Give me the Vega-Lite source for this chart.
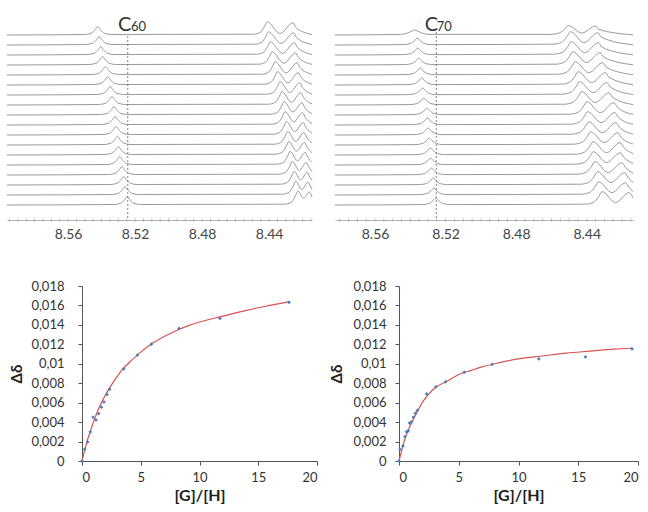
{
"$schema": "https://vega.github.io/schema/vega-lite/v6.json",
"padding": {"left": 5, "top": 12, "right": 0, "bottom": 5},
"background": "white",
"config": {"view": {"stroke": null}, "font": "Lato", "axis": {"labelFont": "Lato", "titleFont": "Lato", "grid": false}},
"datasets": {
"c60": [
{"t":0,"p":8.5965,"y":0},{"t":0,"p":8.5327,"y":0.05},{"t":0,"p":8.5287,"y":0.17},{"t":0,"p":8.5262,"y":0.54},{"t":0,"p":8.5247,"y":0.85},{"t":0,"p":8.5232,"y":0.54},{"t":0,"p":8.5207,"y":0.17},{"t":0,"p":8.5167,"y":0.05},{"t":0,"p":8.4308,"y":0.08},{"t":0,"p":8.4268,"y":0.26},{"t":0,"p":8.4243,"y":0.91},{"t":0,"p":8.4228,"y":1.40},{"t":0,"p":8.4194,"y":0.64},{"t":0,"p":8.4160,"y":1.30},{"t":0,"p":8.4144,"y":0.80},
{"t":1,"p":8.5965,"y":1},{"t":1,"p":8.5340,"y":1.05},{"t":1,"p":8.5300,"y":1.17},{"t":1,"p":8.5275,"y":1.54},{"t":1,"p":8.5260,"y":1.85},{"t":1,"p":8.5245,"y":1.54},{"t":1,"p":8.5220,"y":1.17},{"t":1,"p":8.5180,"y":1.05},{"t":1,"p":8.4322,"y":1.08},{"t":1,"p":8.4282,"y":1.26},{"t":1,"p":8.4257,"y":1.88},{"t":1,"p":8.4242,"y":2.38},{"t":1,"p":8.4205,"y":1.55},{"t":1,"p":8.4167,"y":2.29},{"t":1,"p":8.4152,"y":1.80},{"t":1,"p":8.4144,"y":1.57},
{"t":2,"p":8.5965,"y":2},{"t":2,"p":8.5348,"y":2.05},{"t":2,"p":8.5308,"y":2.17},{"t":2,"p":8.5283,"y":2.54},{"t":2,"p":8.5268,"y":2.85},{"t":2,"p":8.5253,"y":2.54},{"t":2,"p":8.5228,"y":2.17},{"t":2,"p":8.5188,"y":2.05},{"t":2,"p":8.4331,"y":2.08},{"t":2,"p":8.4291,"y":2.26},{"t":2,"p":8.4266,"y":2.88},{"t":2,"p":8.4251,"y":3.37},{"t":2,"p":8.4212,"y":2.51},{"t":2,"p":8.4172,"y":3.28},{"t":2,"p":8.4157,"y":2.80},{"t":2,"p":8.4144,"y":2.45},
{"t":3,"p":8.5965,"y":3},{"t":3,"p":8.5359,"y":3.05},{"t":3,"p":8.5319,"y":3.17},{"t":3,"p":8.5294,"y":3.54},{"t":3,"p":8.5279,"y":3.85},{"t":3,"p":8.5264,"y":3.54},{"t":3,"p":8.5239,"y":3.17},{"t":3,"p":8.5199,"y":3.05},{"t":3,"p":8.4342,"y":3.08},{"t":3,"p":8.4302,"y":3.26},{"t":3,"p":8.4277,"y":3.87},{"t":3,"p":8.4262,"y":4.36},{"t":3,"p":8.4220,"y":3.46},{"t":3,"p":8.4178,"y":4.27},{"t":3,"p":8.4163,"y":3.80},{"t":3,"p":8.4144,"y":3.35},
{"t":4,"p":8.5965,"y":4},{"t":4,"p":8.5372,"y":4.05},{"t":4,"p":8.5332,"y":4.17},{"t":4,"p":8.5307,"y":4.54},{"t":4,"p":8.5292,"y":4.85},{"t":4,"p":8.5277,"y":4.54},{"t":4,"p":8.5252,"y":4.17},{"t":4,"p":8.5212,"y":4.05},{"t":4,"p":8.4355,"y":4.08},{"t":4,"p":8.4315,"y":4.26},{"t":4,"p":8.4290,"y":4.87},{"t":4,"p":8.4275,"y":5.36},{"t":4,"p":8.4230,"y":4.41},{"t":4,"p":8.4185,"y":5.26},{"t":4,"p":8.4170,"y":4.79},{"t":4,"p":8.4144,"y":4.26},
{"t":5,"p":8.5965,"y":5},{"t":5,"p":8.5380,"y":5.05},{"t":5,"p":8.5340,"y":5.17},{"t":5,"p":8.5315,"y":5.54},{"t":5,"p":8.5300,"y":5.85},{"t":5,"p":8.5285,"y":5.54},{"t":5,"p":8.5260,"y":5.17},{"t":5,"p":8.5220,"y":5.05},{"t":5,"p":8.4363,"y":5.08},{"t":5,"p":8.4323,"y":5.26},{"t":5,"p":8.4298,"y":5.86},{"t":5,"p":8.4283,"y":6.35},{"t":5,"p":8.4236,"y":5.38},{"t":5,"p":8.4189,"y":6.26},{"t":5,"p":8.4174,"y":5.79},{"t":5,"p":8.4144,"y":5.23},
{"t":6,"p":8.5965,"y":6},{"t":6,"p":8.5386,"y":6.05},{"t":6,"p":8.5346,"y":6.17},{"t":6,"p":8.5321,"y":6.54},{"t":6,"p":8.5306,"y":6.85},{"t":6,"p":8.5291,"y":6.54},{"t":6,"p":8.5266,"y":6.17},{"t":6,"p":8.5226,"y":6.05},{"t":6,"p":8.4370,"y":6.08},{"t":6,"p":8.4330,"y":6.26},{"t":6,"p":8.4305,"y":6.86},{"t":6,"p":8.4290,"y":7.35},{"t":6,"p":8.4241,"y":6.36},{"t":6,"p":8.4192,"y":7.25},{"t":6,"p":8.4177,"y":6.79},{"t":6,"p":8.4144,"y":6.21},
{"t":7,"p":8.5965,"y":7},{"t":7,"p":8.5393,"y":7.05},{"t":7,"p":8.5353,"y":7.17},{"t":7,"p":8.5328,"y":7.54},{"t":7,"p":8.5313,"y":7.85},{"t":7,"p":8.5298,"y":7.54},{"t":7,"p":8.5273,"y":7.17},{"t":7,"p":8.5233,"y":7.05},{"t":7,"p":8.4377,"y":7.08},{"t":7,"p":8.4337,"y":7.26},{"t":7,"p":8.4312,"y":7.86},{"t":7,"p":8.4297,"y":8.35},{"t":7,"p":8.4247,"y":7.34},{"t":7,"p":8.4196,"y":8.25},{"t":7,"p":8.4181,"y":7.78},{"t":7,"p":8.4144,"y":7.18},
{"t":8,"p":8.5965,"y":8},{"t":8,"p":8.5400,"y":8.05},{"t":8,"p":8.5360,"y":8.17},{"t":8,"p":8.5335,"y":8.54},{"t":8,"p":8.5320,"y":8.85},{"t":8,"p":8.5305,"y":8.54},{"t":8,"p":8.5280,"y":8.17},{"t":8,"p":8.5240,"y":8.05},{"t":8,"p":8.4385,"y":8.08},{"t":8,"p":8.4345,"y":8.26},{"t":8,"p":8.4320,"y":8.86},{"t":8,"p":8.4305,"y":9.34},{"t":8,"p":8.4253,"y":8.32},{"t":8,"p":8.4200,"y":9.25},{"t":8,"p":8.4185,"y":8.78},{"t":8,"p":8.4144,"y":8.16},
{"t":9,"p":8.5965,"y":9},{"t":9,"p":8.5406,"y":9.05},{"t":9,"p":8.5366,"y":9.17},{"t":9,"p":8.5341,"y":9.54},{"t":9,"p":8.5326,"y":9.85},{"t":9,"p":8.5311,"y":9.54},{"t":9,"p":8.5286,"y":9.17},{"t":9,"p":8.5246,"y":9.05},{"t":9,"p":8.4391,"y":9.08},{"t":9,"p":8.4351,"y":9.26},{"t":9,"p":8.4326,"y":9.86},{"t":9,"p":8.4311,"y":10.34},{"t":9,"p":8.4258,"y":9.31},{"t":9,"p":8.4204,"y":10.24},{"t":9,"p":8.4189,"y":9.78},{"t":9,"p":8.4144,"y":9.14},
{"t":10,"p":8.5965,"y":10},{"t":10,"p":8.5418,"y":10.05},{"t":10,"p":8.5378,"y":10.17},{"t":10,"p":8.5353,"y":10.54},{"t":10,"p":8.5338,"y":10.85},{"t":10,"p":8.5323,"y":10.54},{"t":10,"p":8.5298,"y":10.17},{"t":10,"p":8.5258,"y":10.05},{"t":10,"p":8.4404,"y":10.08},{"t":10,"p":8.4364,"y":10.26},{"t":10,"p":8.4339,"y":10.85},{"t":10,"p":8.4324,"y":11.34},{"t":10,"p":8.4267,"y":10.27},{"t":10,"p":8.4210,"y":11.24},{"t":10,"p":8.4195,"y":10.78},{"t":10,"p":8.4144,"y":10.12},
{"t":11,"p":8.5965,"y":11},{"t":11,"p":8.5429,"y":11.05},{"t":11,"p":8.5389,"y":11.17},{"t":11,"p":8.5364,"y":11.54},{"t":11,"p":8.5349,"y":11.85},{"t":11,"p":8.5334,"y":11.54},{"t":11,"p":8.5309,"y":11.17},{"t":11,"p":8.5269,"y":11.05},{"t":11,"p":8.4415,"y":11.08},{"t":11,"p":8.4375,"y":11.26},{"t":11,"p":8.4350,"y":11.85},{"t":11,"p":8.4335,"y":12.33},{"t":11,"p":8.4276,"y":11.25},{"t":11,"p":8.4216,"y":12.24},{"t":11,"p":8.4201,"y":11.77},{"t":11,"p":8.4144,"y":11.10},
{"t":12,"p":8.5965,"y":12},{"t":12,"p":8.5444,"y":12.05},{"t":12,"p":8.5404,"y":12.17},{"t":12,"p":8.5379,"y":12.54},{"t":12,"p":8.5364,"y":12.85},{"t":12,"p":8.5349,"y":12.54},{"t":12,"p":8.5324,"y":12.17},{"t":12,"p":8.5284,"y":12.05},{"t":12,"p":8.4431,"y":12.08},{"t":12,"p":8.4391,"y":12.26},{"t":12,"p":8.4366,"y":12.85},{"t":12,"p":8.4351,"y":13.33},{"t":12,"p":8.4288,"y":12.23},{"t":12,"p":8.4225,"y":13.23},{"t":12,"p":8.4210,"y":12.77},{"t":12,"p":8.4144,"y":12.08},
{"t":13,"p":8.5965,"y":13},{"t":13,"p":8.5457,"y":13.05},{"t":13,"p":8.5417,"y":13.17},{"t":13,"p":8.5392,"y":13.54},{"t":13,"p":8.5377,"y":13.85},{"t":13,"p":8.5362,"y":13.54},{"t":13,"p":8.5337,"y":13.17},{"t":13,"p":8.5297,"y":13.05},{"t":13,"p":8.4445,"y":13.08},{"t":13,"p":8.4405,"y":13.26},{"t":13,"p":8.4380,"y":13.85},{"t":13,"p":8.4365,"y":14.33},{"t":13,"p":8.4299,"y":13.21},{"t":13,"p":8.4232,"y":14.23},{"t":13,"p":8.4217,"y":13.77},{"t":13,"p":8.4144,"y":13.07},
{"t":14,"p":8.5965,"y":14},{"t":14,"p":8.5474,"y":14.05},{"t":14,"p":8.5434,"y":14.17},{"t":14,"p":8.5409,"y":14.54},{"t":14,"p":8.5394,"y":14.85},{"t":14,"p":8.5379,"y":14.54},{"t":14,"p":8.5354,"y":14.17},{"t":14,"p":8.5314,"y":14.05},{"t":14,"p":8.4463,"y":14.08},{"t":14,"p":8.4423,"y":14.26},{"t":14,"p":8.4398,"y":14.84},{"t":14,"p":8.4383,"y":15.32},{"t":14,"p":8.4312,"y":14.18},{"t":14,"p":8.4241,"y":15.23},{"t":14,"p":8.4226,"y":14.77},{"t":14,"p":8.4144,"y":14.06},
{"t":15,"p":8.5965,"y":15},{"t":15,"p":8.5485,"y":15.05},{"t":15,"p":8.5445,"y":15.17},{"t":15,"p":8.5420,"y":15.54},{"t":15,"p":8.5405,"y":15.85},{"t":15,"p":8.5390,"y":15.54},{"t":15,"p":8.5365,"y":15.17},{"t":15,"p":8.5325,"y":15.05},{"t":15,"p":8.4474,"y":15.08},{"t":15,"p":8.4434,"y":15.26},{"t":15,"p":8.4409,"y":15.84},{"t":15,"p":8.4394,"y":16.32},{"t":15,"p":8.4321,"y":15.17},{"t":15,"p":8.4247,"y":16.22},{"t":15,"p":8.4232,"y":15.77},{"t":15,"p":8.4144,"y":15.05},
{"t":16,"p":8.5965,"y":16},{"t":16,"p":8.5495,"y":16.05},{"t":16,"p":8.5455,"y":16.17},{"t":16,"p":8.5430,"y":16.54},{"t":16,"p":8.5415,"y":16.85},{"t":16,"p":8.5400,"y":16.54},{"t":16,"p":8.5375,"y":16.17},{"t":16,"p":8.5335,"y":16.05},{"t":16,"p":8.4485,"y":16.08},{"t":16,"p":8.4445,"y":16.26},{"t":16,"p":8.4420,"y":16.84},{"t":16,"p":8.4405,"y":17.32},{"t":16,"p":8.4329,"y":16.16},{"t":16,"p":8.4253,"y":17.22},{"t":16,"p":8.4238,"y":16.77},{"t":16,"p":8.4144,"y":16.05},
{"t":17,"p":8.5965,"y":17},{"t":17,"p":8.5503,"y":17.05},{"t":17,"p":8.5463,"y":17.17},{"t":17,"p":8.5438,"y":17.54},{"t":17,"p":8.5423,"y":17.85},{"t":17,"p":8.5408,"y":17.54},{"t":17,"p":8.5383,"y":17.17},{"t":17,"p":8.5343,"y":17.05},{"t":17,"p":8.4493,"y":17.08},{"t":17,"p":8.4453,"y":17.26},{"t":17,"p":8.4428,"y":17.84},{"t":17,"p":8.4413,"y":18.32},{"t":17,"p":8.4335,"y":17.15},{"t":17,"p":8.4257,"y":18.22},{"t":17,"p":8.4242,"y":17.77},{"t":17,"p":8.4144,"y":17.05}
],
"c70": [
{"t":0,"p":8.5827,"y":0},{"t":0,"p":8.5335,"y":0.04},{"t":0,"p":8.5295,"y":0.14},{"t":0,"p":8.5270,"y":0.45},{"t":0,"p":8.5255,"y":0.70},{"t":0,"p":8.5240,"y":0.45},{"t":0,"p":8.5215,"y":0.14},{"t":0,"p":8.5175,"y":0.04},{"t":0,"p":8.4413,"y":0.08},{"t":0,"p":8.4363,"y":0.26},{"t":0,"p":8.4332,"y":0.85},{"t":0,"p":8.4313,"y":1.33},{"t":0,"p":8.4237,"y":0.24},{"t":0,"p":8.4160,"y":1.23},{"t":0,"p":8.4138,"y":0.71},
{"t":1,"p":8.5827,"y":1},{"t":1,"p":8.5347,"y":1.04},{"t":1,"p":8.5307,"y":1.14},{"t":1,"p":8.5282,"y":1.45},{"t":1,"p":8.5267,"y":1.70},{"t":1,"p":8.5252,"y":1.45},{"t":1,"p":8.5227,"y":1.14},{"t":1,"p":8.5187,"y":1.04},{"t":1,"p":8.4433,"y":1.08},{"t":1,"p":8.4383,"y":1.26},{"t":1,"p":8.4352,"y":1.85},{"t":1,"p":8.4333,"y":2.33},{"t":1,"p":8.4257,"y":1.24},{"t":1,"p":8.4180,"y":2.23},{"t":1,"p":8.4161,"y":1.79},{"t":1,"p":8.4138,"y":1.33},
{"t":2,"p":8.5827,"y":2},{"t":2,"p":8.5350,"y":2.04},{"t":2,"p":8.5310,"y":2.14},{"t":2,"p":8.5285,"y":2.45},{"t":2,"p":8.5270,"y":2.70},{"t":2,"p":8.5255,"y":2.45},{"t":2,"p":8.5230,"y":2.14},{"t":2,"p":8.5190,"y":2.04},{"t":2,"p":8.4439,"y":2.08},{"t":2,"p":8.4389,"y":2.26},{"t":2,"p":8.4358,"y":2.85},{"t":2,"p":8.4339,"y":3.33},{"t":2,"p":8.4263,"y":2.24},{"t":2,"p":8.4186,"y":3.23},{"t":2,"p":8.4167,"y":2.79},{"t":2,"p":8.4138,"y":2.28},
{"t":3,"p":8.5827,"y":3},{"t":3,"p":8.5360,"y":3.04},{"t":3,"p":8.5320,"y":3.14},{"t":3,"p":8.5295,"y":3.45},{"t":3,"p":8.5280,"y":3.70},{"t":3,"p":8.5265,"y":3.45},{"t":3,"p":8.5240,"y":3.14},{"t":3,"p":8.5200,"y":3.04},{"t":3,"p":8.4455,"y":3.08},{"t":3,"p":8.4405,"y":3.26},{"t":3,"p":8.4374,"y":3.85},{"t":3,"p":8.4355,"y":4.33},{"t":3,"p":8.4278,"y":3.24},{"t":3,"p":8.4201,"y":4.23},{"t":3,"p":8.4182,"y":3.79},{"t":3,"p":8.4138,"y":3.18},
{"t":4,"p":8.5827,"y":4},{"t":4,"p":8.5365,"y":4.04},{"t":4,"p":8.5325,"y":4.14},{"t":4,"p":8.5300,"y":4.45},{"t":4,"p":8.5285,"y":4.70},{"t":4,"p":8.5270,"y":4.45},{"t":4,"p":8.5245,"y":4.14},{"t":4,"p":8.5205,"y":4.04},{"t":4,"p":8.4463,"y":4.08},{"t":4,"p":8.4413,"y":4.26},{"t":4,"p":8.4382,"y":4.85},{"t":4,"p":8.4363,"y":5.33},{"t":4,"p":8.4287,"y":4.24},{"t":4,"p":8.4210,"y":5.23},{"t":4,"p":8.4191,"y":4.79},{"t":4,"p":8.4138,"y":4.14},
{"t":5,"p":8.5827,"y":5},{"t":5,"p":8.5366,"y":5.04},{"t":5,"p":8.5326,"y":5.14},{"t":5,"p":8.5301,"y":5.45},{"t":5,"p":8.5286,"y":5.70},{"t":5,"p":8.5271,"y":5.45},{"t":5,"p":8.5246,"y":5.14},{"t":5,"p":8.5206,"y":5.04},{"t":5,"p":8.4465,"y":5.08},{"t":5,"p":8.4415,"y":5.26},{"t":5,"p":8.4384,"y":5.85},{"t":5,"p":8.4365,"y":6.33},{"t":5,"p":8.4288,"y":5.24},{"t":5,"p":8.4211,"y":6.23},{"t":5,"p":8.4192,"y":5.79},{"t":5,"p":8.4138,"y":5.14},
{"t":6,"p":8.5827,"y":6},{"t":6,"p":8.5373,"y":6.04},{"t":6,"p":8.5333,"y":6.14},{"t":6,"p":8.5308,"y":6.45},{"t":6,"p":8.5293,"y":6.70},{"t":6,"p":8.5278,"y":6.45},{"t":6,"p":8.5253,"y":6.14},{"t":6,"p":8.5213,"y":6.04},{"t":6,"p":8.4478,"y":6.08},{"t":6,"p":8.4428,"y":6.26},{"t":6,"p":8.4397,"y":6.85},{"t":6,"p":8.4378,"y":7.33},{"t":6,"p":8.4301,"y":6.24},{"t":6,"p":8.4224,"y":7.23},{"t":6,"p":8.4205,"y":6.79},{"t":6,"p":8.4138,"y":6.10},
{"t":7,"p":8.5827,"y":7},{"t":7,"p":8.5379,"y":7.04},{"t":7,"p":8.5339,"y":7.14},{"t":7,"p":8.5314,"y":7.45},{"t":7,"p":8.5299,"y":7.70},{"t":7,"p":8.5284,"y":7.45},{"t":7,"p":8.5259,"y":7.14},{"t":7,"p":8.5219,"y":7.04},{"t":7,"p":8.4489,"y":7.08},{"t":7,"p":8.4439,"y":7.26},{"t":7,"p":8.4408,"y":7.85},{"t":7,"p":8.4389,"y":8.33},{"t":7,"p":8.4312,"y":7.24},{"t":7,"p":8.4234,"y":8.23},{"t":7,"p":8.4215,"y":7.79},{"t":7,"p":8.4138,"y":7.09},
{"t":8,"p":8.5827,"y":8},{"t":8,"p":8.5383,"y":8.04},{"t":8,"p":8.5343,"y":8.14},{"t":8,"p":8.5318,"y":8.45},{"t":8,"p":8.5303,"y":8.70},{"t":8,"p":8.5288,"y":8.45},{"t":8,"p":8.5263,"y":8.14},{"t":8,"p":8.5223,"y":8.04},{"t":8,"p":8.4495,"y":8.08},{"t":8,"p":8.4445,"y":8.26},{"t":8,"p":8.4414,"y":8.85},{"t":8,"p":8.4395,"y":9.33},{"t":8,"p":8.4318,"y":8.24},{"t":8,"p":8.4241,"y":9.23},{"t":8,"p":8.4222,"y":8.79},{"t":8,"p":8.4138,"y":8.07},
{"t":9,"p":8.5827,"y":9},{"t":9,"p":8.5386,"y":9.04},{"t":9,"p":8.5346,"y":9.14},{"t":9,"p":8.5321,"y":9.45},{"t":9,"p":8.5306,"y":9.70},{"t":9,"p":8.5291,"y":9.45},{"t":9,"p":8.5266,"y":9.14},{"t":9,"p":8.5226,"y":9.04},{"t":9,"p":8.4500,"y":9.08},{"t":9,"p":8.4450,"y":9.26},{"t":9,"p":8.4419,"y":9.85},{"t":9,"p":8.4400,"y":10.33},{"t":9,"p":8.4323,"y":9.24},{"t":9,"p":8.4246,"y":10.23},{"t":9,"p":8.4227,"y":9.79},{"t":9,"p":8.4138,"y":9.06},
{"t":10,"p":8.5827,"y":10},{"t":10,"p":8.5403,"y":10.04},{"t":10,"p":8.5363,"y":10.14},{"t":10,"p":8.5338,"y":10.45},{"t":10,"p":8.5323,"y":10.70},{"t":10,"p":8.5308,"y":10.45},{"t":10,"p":8.5283,"y":10.14},{"t":10,"p":8.5243,"y":10.04},{"t":10,"p":8.4529,"y":10.08},{"t":10,"p":8.4479,"y":10.26},{"t":10,"p":8.4448,"y":10.85},{"t":10,"p":8.4429,"y":11.33},{"t":10,"p":8.4352,"y":10.24},{"t":10,"p":8.4274,"y":11.23},{"t":10,"p":8.4255,"y":10.79},{"t":10,"p":8.4138,"y":10.04},
{"t":11,"p":8.5827,"y":11},{"t":11,"p":8.5410,"y":11.04},{"t":11,"p":8.5370,"y":11.14},{"t":11,"p":8.5345,"y":11.45},{"t":11,"p":8.5330,"y":11.70},{"t":11,"p":8.5315,"y":11.45},{"t":11,"p":8.5290,"y":11.14},{"t":11,"p":8.5250,"y":11.04},{"t":11,"p":8.4541,"y":11.08},{"t":11,"p":8.4491,"y":11.26},{"t":11,"p":8.4460,"y":11.85},{"t":11,"p":8.4441,"y":12.33},{"t":11,"p":8.4364,"y":11.24},{"t":11,"p":8.4286,"y":12.23},{"t":11,"p":8.4267,"y":11.79},{"t":11,"p":8.4138,"y":11.04},
{"t":12,"p":8.5827,"y":12},{"t":12,"p":8.5415,"y":12.04},{"t":12,"p":8.5375,"y":12.14},{"t":12,"p":8.5350,"y":12.45},{"t":12,"p":8.5335,"y":12.70},{"t":12,"p":8.5320,"y":12.45},{"t":12,"p":8.5295,"y":12.14},{"t":12,"p":8.5255,"y":12.04},{"t":12,"p":8.4549,"y":12.08},{"t":12,"p":8.4499,"y":12.26},{"t":12,"p":8.4468,"y":12.85},{"t":12,"p":8.4449,"y":13.33},{"t":12,"p":8.4372,"y":12.24},{"t":12,"p":8.4294,"y":13.23},{"t":12,"p":8.4275,"y":12.79},{"t":12,"p":8.4138,"y":12.03},
{"t":13,"p":8.5827,"y":13},{"t":13,"p":8.5424,"y":13.04},{"t":13,"p":8.5384,"y":13.14},{"t":13,"p":8.5359,"y":13.45},{"t":13,"p":8.5344,"y":13.70},{"t":13,"p":8.5329,"y":13.45},{"t":13,"p":8.5304,"y":13.14},{"t":13,"p":8.5264,"y":13.04},{"t":13,"p":8.4566,"y":13.08},{"t":13,"p":8.4516,"y":13.26},{"t":13,"p":8.4485,"y":13.85},{"t":13,"p":8.4466,"y":14.33},{"t":13,"p":8.4388,"y":13.24},{"t":13,"p":8.4310,"y":14.23},{"t":13,"p":8.4291,"y":13.79},{"t":13,"p":8.4138,"y":13.03},
{"t":14,"p":8.5827,"y":14},{"t":14,"p":8.5432,"y":14.04},{"t":14,"p":8.5392,"y":14.14},{"t":14,"p":8.5367,"y":14.45},{"t":14,"p":8.5352,"y":14.70},{"t":14,"p":8.5337,"y":14.45},{"t":14,"p":8.5312,"y":14.14},{"t":14,"p":8.5272,"y":14.04},{"t":14,"p":8.4579,"y":14.08},{"t":14,"p":8.4529,"y":14.26},{"t":14,"p":8.4498,"y":14.85},{"t":14,"p":8.4479,"y":15.33},{"t":14,"p":8.4402,"y":14.24},{"t":14,"p":8.4324,"y":15.23},{"t":14,"p":8.4305,"y":14.79},{"t":14,"p":8.4138,"y":14.02},
{"t":15,"p":8.5827,"y":15},{"t":15,"p":8.5438,"y":15.04},{"t":15,"p":8.5398,"y":15.14},{"t":15,"p":8.5373,"y":15.45},{"t":15,"p":8.5358,"y":15.70},{"t":15,"p":8.5343,"y":15.45},{"t":15,"p":8.5318,"y":15.14},{"t":15,"p":8.5278,"y":15.04},{"t":15,"p":8.4589,"y":15.08},{"t":15,"p":8.4539,"y":15.26},{"t":15,"p":8.4508,"y":15.85},{"t":15,"p":8.4489,"y":16.33},{"t":15,"p":8.4412,"y":15.24},{"t":15,"p":8.4334,"y":16.23},{"t":15,"p":8.4315,"y":15.79},{"t":15,"p":8.4138,"y":15.02},
{"t":16,"p":8.5827,"y":16},{"t":16,"p":8.5440,"y":16.04},{"t":16,"p":8.5400,"y":16.14},{"t":16,"p":8.5375,"y":16.45},{"t":16,"p":8.5360,"y":16.70},{"t":16,"p":8.5345,"y":16.45},{"t":16,"p":8.5320,"y":16.14},{"t":16,"p":8.5280,"y":16.04},{"t":16,"p":8.4593,"y":16.08},{"t":16,"p":8.4543,"y":16.26},{"t":16,"p":8.4512,"y":16.85},{"t":16,"p":8.4493,"y":17.33},{"t":16,"p":8.4415,"y":16.24},{"t":16,"p":8.4337,"y":17.23},{"t":16,"p":8.4318,"y":16.79},{"t":16,"p":8.4138,"y":16.02},
{"t":17,"p":8.5827,"y":17},{"t":17,"p":8.5455,"y":17.06},{"t":17,"p":8.5415,"y":17.2},{"t":17,"p":8.5390,"y":17.4},{"t":17,"p":8.5375,"y":17.5},{"t":17,"p":8.5360,"y":17.4},{"t":17,"p":8.5335,"y":17.2},{"t":17,"p":8.5295,"y":17.06},{"t":17,"p":8.4606,"y":17.06},{"t":17,"p":8.4556,"y":17.2},{"t":17,"p":8.4525,"y":17.6},{"t":17,"p":8.4506,"y":17.95},{"t":17,"p":8.4428,"y":17.2},{"t":17,"p":8.4350,"y":17.9},{"t":17,"p":8.4331,"y":17.55},{"t":17,"p":8.4138,"y":17.02}
],
"ticks60": [{"p":8.595,"y":-1.5},{"p":8.59,"y":-1.5},{"p":8.585,"y":-1.5},{"p":8.58,"y":-1.5},{"p":8.575,"y":-1.5},{"p":8.57,"y":-1.5},{"p":8.565,"y":-1.5},{"p":8.56,"y":-1.5},{"p":8.555,"y":-1.5},{"p":8.55,"y":-1.5},{"p":8.545,"y":-1.5},{"p":8.54,"y":-1.5},{"p":8.535,"y":-1.5},{"p":8.53,"y":-1.5},{"p":8.525,"y":-1.5},{"p":8.52,"y":-1.5},{"p":8.515,"y":-1.5},{"p":8.51,"y":-1.5},{"p":8.505,"y":-1.5},{"p":8.5,"y":-1.5},{"p":8.495,"y":-1.5},{"p":8.49,"y":-1.5},{"p":8.485,"y":-1.5},{"p":8.48,"y":-1.5},{"p":8.475,"y":-1.5},{"p":8.47,"y":-1.5},{"p":8.465,"y":-1.5},{"p":8.46,"y":-1.5},{"p":8.455,"y":-1.5},{"p":8.45,"y":-1.5},{"p":8.445,"y":-1.5},{"p":8.44,"y":-1.5},{"p":8.435,"y":-1.5},{"p":8.43,"y":-1.5},{"p":8.425,"y":-1.5},{"p":8.42,"y":-1.5},{"p":8.415,"y":-1.5}],
"ticks70": [{"p":8.58,"y":-1.5},{"p":8.575,"y":-1.5},{"p":8.57,"y":-1.5},{"p":8.565,"y":-1.5},{"p":8.56,"y":-1.5},{"p":8.555,"y":-1.5},{"p":8.55,"y":-1.5},{"p":8.545,"y":-1.5},{"p":8.54,"y":-1.5},{"p":8.535,"y":-1.5},{"p":8.53,"y":-1.5},{"p":8.525,"y":-1.5},{"p":8.52,"y":-1.5},{"p":8.515,"y":-1.5},{"p":8.51,"y":-1.5},{"p":8.505,"y":-1.5},{"p":8.5,"y":-1.5},{"p":8.495,"y":-1.5},{"p":8.49,"y":-1.5},{"p":8.485,"y":-1.5},{"p":8.48,"y":-1.5},{"p":8.475,"y":-1.5},{"p":8.47,"y":-1.5},{"p":8.465,"y":-1.5},{"p":8.46,"y":-1.5},{"p":8.455,"y":-1.5},{"p":8.45,"y":-1.5},{"p":8.445,"y":-1.5},{"p":8.44,"y":-1.5},{"p":8.435,"y":-1.5},{"p":8.43,"y":-1.5},{"p":8.425,"y":-1.5},{"p":8.42,"y":-1.5},{"p":8.415,"y":-1.5}],
"fit60": [{"x":0,"y":0},{"x":0.25,"y":0.0012},{"x":0.5,"y":0.0023},{"x":0.75,"y":0.0032},{"x":1,"y":0.0041},{"x":1.5,"y":0.0056},{"x":2,"y":0.0068},{"x":2.5,"y":0.0078},{"x":3,"y":0.0087},{"x":3.5,"y":0.0095},{"x":4,"y":0.0101},{"x":5,"y":0.0112},{"x":6,"y":0.0121},{"x":7,"y":0.0128},{"x":8,"y":0.0134},{"x":9,"y":0.0139},{"x":10,"y":0.0143},{"x":12,"y":0.0149},{"x":14,"y":0.0155},{"x":16,"y":0.016},{"x":17.7,"y":0.0164}],
"pts60": [{"x":0,"y":0},{"x":0.23,"y":0.0012},{"x":0.48,"y":0.00196},{"x":0.71,"y":0.003},{"x":0.94,"y":0.0045},{"x":1.19,"y":0.00423},{"x":1.42,"y":0.00488},{"x":1.65,"y":0.00553},{"x":1.87,"y":0.00608},{"x":2.13,"y":0.00684},{"x":2.35,"y":0.00739},{"x":3.55,"y":0.00948},{"x":4.71,"y":0.0109},{"x":5.9,"y":0.01202},{"x":8.26,"y":0.01364},{"x":11.74,"y":0.01467},{"x":17.62,"y":0.01632}],
"fit70": [{"x":0,"y":0},{"x":0.25,"y":0.0012},{"x":0.5,"y":0.0023},{"x":0.75,"y":0.0031},{"x":1,"y":0.0038},{"x":1.5,"y":0.005},{"x":2,"y":0.0061},{"x":2.5,"y":0.0069},{"x":3,"y":0.0075},{"x":4,"y":0.0082},{"x":5,"y":0.0089},{"x":6,"y":0.0093},{"x":7,"y":0.0097},{"x":8,"y":0.01},{"x":10,"y":0.0105},{"x":12,"y":0.0108},{"x":14,"y":0.0111},{"x":16,"y":0.0113},{"x":18,"y":0.0115},{"x":19.5,"y":0.0116}],
"pts70": [{"x":0,"y":0},{"x":0.08,"y":0.0012},{"x":0.33,"y":0.00155},{"x":0.5,"y":0.0025},{"x":0.64,"y":0.003},{"x":0.78,"y":0.0031},{"x":0.89,"y":0.0039},{"x":1.03,"y":0.004},{"x":1.2,"y":0.0045},{"x":1.36,"y":0.0049},{"x":1.53,"y":0.0052},{"x":2.31,"y":0.0069},{"x":3.09,"y":0.00763},{"x":3.9,"y":0.00814},{"x":5.46,"y":0.00914},{"x":7.8,"y":0.00993},{"x":11.7,"y":0.0105},{"x":15.6,"y":0.0107},{"x":19.5,"y":0.01154}]
},
"spacing": 39,
"vconcat": [
{"hconcat": [
{"width": 305, "height": 208,
 "encoding": {
  "x": {"field": "p", "type": "quantitative", "scale": {"domain": [8.5965, 8.4144], "nice": false, "zero": false},
    "axis": {"title": null, "values": [8.56, 8.52, 8.48, 8.44], "format": ".2f", "ticks": false, "labelOverlap": false, "labelFlush": false, "domainColor": "#b0b0b0", "labelFontSize": 14, "labelColor": "#444444", "labelPadding": 7}},
  "y": {"field": "y", "type": "quantitative", "scale": {"domain": [-1.5, 19.3], "nice": false, "zero": false}, "axis": null}},
 "layer": [
  {"data": {"name": "c60"}, "mark": {"type": "line", "interpolate": "monotone", "stroke": "#999999", "strokeWidth": 1}, "encoding": {"detail": {"field": "t", "type": "nominal"}}},
  {"data": {"name": "ticks60"}, "mark": {"type": "tick", "orient": "vertical", "size": 4, "thickness": 1, "color": "#b0b0b0"}},
  {"data": {"values": [{"p": 8.5244, "y": -1.3, "y2": 17.1}]}, "mark": {"type": "rule", "strokeDash": [2, 2], "color": "#666666", "strokeWidth": 0.8}, "encoding": {"y2": {"field": "y2"}}},
  {"data": {"values": [{"p": 8.5302, "y": 17.4, "s": "C"}]}, "mark": {"type": "text", "fontSize": 20, "align": "left", "baseline": "alphabetic", "color": "#333333"}, "encoding": {"text": {"field": "s"}}},
  {"data": {"values": [{"p": 8.5225, "y": 17.4, "s": "60"}]}, "mark": {"type": "text", "fontSize": 13, "align": "left", "baseline": "alphabetic", "color": "#333333"}, "encoding": {"text": {"field": "s"}}}
 ]},
{"width": 298, "height": 208,
 "encoding": {
  "x": {"field": "p", "type": "quantitative", "scale": {"domain": [8.5827, 8.4138], "nice": false, "zero": false},
    "axis": {"title": null, "values": [8.56, 8.52, 8.48, 8.44], "format": ".2f", "ticks": false, "labelOverlap": false, "labelFlush": false, "domainColor": "#b0b0b0", "labelFontSize": 14, "labelColor": "#444444", "labelPadding": 7}},
  "y": {"field": "y", "type": "quantitative", "scale": {"domain": [-1.5, 19.3], "nice": false, "zero": false}, "axis": null}},
 "layer": [
  {"data": {"name": "c70"}, "mark": {"type": "line", "interpolate": "monotone", "stroke": "#999999", "strokeWidth": 1}, "encoding": {"detail": {"field": "t", "type": "nominal"}}},
  {"data": {"name": "ticks70"}, "mark": {"type": "tick", "orient": "vertical", "size": 4, "thickness": 1, "color": "#b0b0b0"}},
  {"data": {"values": [{"p": 8.5253, "y": -1.3, "y2": 17.5}]}, "mark": {"type": "rule", "strokeDash": [2, 2], "color": "#666666", "strokeWidth": 0.8}, "encoding": {"y2": {"field": "y2"}}},
  {"data": {"values": [{"p": 8.5319, "y": 17.4, "s": "C"}]}, "mark": {"type": "text", "fontSize": 20, "align": "left", "baseline": "alphabetic", "color": "#333333"}, "encoding": {"text": {"field": "s"}}},
  {"data": {"values": [{"p": 8.5250, "y": 17.4, "s": "70"}]}, "mark": {"type": "text", "fontSize": 13, "align": "left", "baseline": "alphabetic", "color": "#333333"}, "encoding": {"text": {"field": "s"}}}
 ]}
], "spacing": 19},
{"hconcat": [
{"width": 310, "height": 175,
 "encoding": {
  "x": {"field": "x", "type": "quantitative", "scale": {"domain": [0, 20], "range": [75, 310], "nice": false},
    "axis": {"values": [0, 5, 10, 15, 20], "title": "[G]/[H]", "titleFontSize": 16, "titleFontWeight": "bold", "titleColor": "#222222", "titlePadding": 3, "labelFontSize": 13, "labelColor": "#333333", "domainColor": "#555555", "tickColor": "#555555", "tickSize": 4, "labelPadding": 6, "labelOverlap": false}},
  "y": {"field": "y", "type": "quantitative", "scale": {"domain": [0, 0.018], "nice": false},
    "axis": {"offset": -75, "values": [0, 0.002, 0.004, 0.006, 0.008, 0.01, 0.012, 0.014, 0.016, 0.018], "labelExpr": "replace(format(datum.value, '~f'), '.', ',')", "labelOverlap": false, "title": "Δδ", "titleFontSize": 15, "titleFontWeight": "bold", "titleColor": "#222222", "titlePadding": 6, "labelFontSize": 13, "labelColor": "#333333", "domainColor": "#555555", "tickColor": "#555555", "tickSize": 4, "labelPadding": 14}}},
 "layer": [
  {"data": {"name": "fit60"}, "mark": {"type": "line", "interpolate": "monotone", "color": "#d9534f", "strokeWidth": 1.2}},
  {"data": {"name": "pts60"}, "mark": {"type": "point", "filled": true, "shape": "diamond", "size": 14, "color": "#4a7ebb", "opacity": 1}}
 ]},
{"width": 239, "height": 175,
 "encoding": {
  "x": {"field": "x", "type": "quantitative", "scale": {"domain": [0, 20], "nice": false},
    "axis": {"values": [0, 5, 10, 15, 20], "title": "[G]/[H]", "titleFontSize": 16, "titleFontWeight": "bold", "titleColor": "#222222", "titlePadding": 3, "labelFontSize": 13, "labelColor": "#333333", "domainColor": "#555555", "tickColor": "#555555", "tickSize": 4, "labelPadding": 6, "labelOverlap": false}},
  "y": {"field": "y", "type": "quantitative", "scale": {"domain": [0, 0.018], "nice": false},
    "axis": {"values": [0, 0.002, 0.004, 0.006, 0.008, 0.01, 0.012, 0.014, 0.016, 0.018], "labelExpr": "replace(format(datum.value, '~f'), '.', ',')", "labelOverlap": false, "title": "Δδ", "titleFontSize": 15, "titleFontWeight": "bold", "titleColor": "#222222", "titlePadding": 8, "labelFontSize": 13, "labelColor": "#333333", "domainColor": "#555555", "tickColor": "#555555", "tickSize": 4, "labelPadding": 9}}},
 "layer": [
  {"data": {"name": "fit70"}, "mark": {"type": "line", "interpolate": "monotone", "color": "#d9534f", "strokeWidth": 1.2}},
  {"data": {"name": "pts70"}, "mark": {"type": "point", "filled": true, "shape": "diamond", "size": 14, "color": "#4a7ebb", "opacity": 1}}
 ]}
], "spacing": 11}
]
}
